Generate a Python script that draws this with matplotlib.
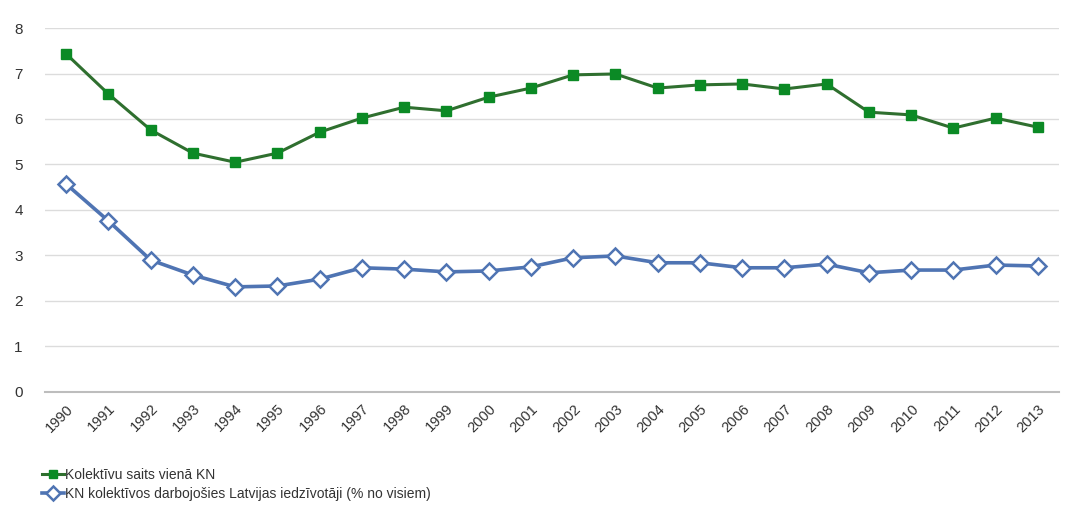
import matplotlib
matplotlib.use("Agg")
import matplotlib.pyplot as plt

years = [str(y) for y in range(1990, 2014)]
kolektivu_saits = [7.43, 6.55, 5.76, 5.25, 5.05, 5.25, 5.71, 6.02, 6.26, 6.18, 6.48, 6.68,
                   6.97, 6.99, 6.68, 6.75, 6.77, 6.66, 6.77, 6.15, 6.09, 5.80, 6.02, 5.82]
iedzivotaji = [4.57, 3.76, 2.90, 2.57, 2.31, 2.33, 2.48, 2.73, 2.70, 2.64, 2.66, 2.75,
               2.95, 2.99, 2.84, 2.84, 2.73, 2.73, 2.81, 2.62, 2.68, 2.68, 2.79, 2.77]
yticks = [0, 1, 2, 3, 4, 5, 6, 7, 8]
labels = ["Kolektīvu saits vienā KN",
          "KN kolektīvos darbojošies Latvijas iedzīvotāji (% no visiem)"]

plt.rcParams['font.family'] = ['Liberation Sans', 'DejaVu Sans']

fig = plt.figure(figsize=(10.65, 5.11), dpi=100)
ax = fig.add_axes([0.0423, 0.2329, 0.9521, 0.7123])

x = list(range(len(years)))
ax.plot(x, kolektivu_saits, color='#2f6f2f', lw=2.2, marker='s', markersize=7.5,
        markerfacecolor='#0b8a25', markeredgecolor='#0b8a25', label=labels[0], zorder=3)
ax.plot(x, iedzivotaji, color='#4f74b3', lw=2.6, marker='D', markersize=8,
        markerfacecolor='white', markeredgecolor='#4f74b3', markeredgewidth=1.8,
        label=labels[1], zorder=3)

ax.set_xlim(-0.5, len(years) - 0.5)
ax.set_ylim(0, 8)
ax.set_yticks(yticks)
ax.set_yticklabels([str(v) for v in yticks], fontsize=11, color='#333333')
ax.set_xticks(x)
ax.set_xticklabels(years, rotation=45, ha='right', rotation_mode='anchor',
                   fontsize=10.5, color='#333333')
ax.tick_params(axis='y', length=0, pad=16)
ax.tick_params(axis='x', length=0, pad=7)
ax.grid(axis='y', color='#dcdcdc', lw=1)
ax.set_axisbelow(True)
for s in ['top', 'right', 'left']:
    ax.spines[s].set_visible(False)
ax.spines['bottom'].set_color('#bdbdbd')
ax.spines['bottom'].set_linewidth(1.5)
ax.spines['bottom'].set_zorder(1)

fig.legend(loc='lower left', bbox_to_anchor=(0.03, 0.0), frameon=False, fontsize=10,
           handlelength=1.6, handletextpad=0.1, labelspacing=0.4, borderaxespad=0.3,
           markerscale=0.85, labelcolor='#333333')

fig.savefig('out.png', dpi=100, facecolor='white')
